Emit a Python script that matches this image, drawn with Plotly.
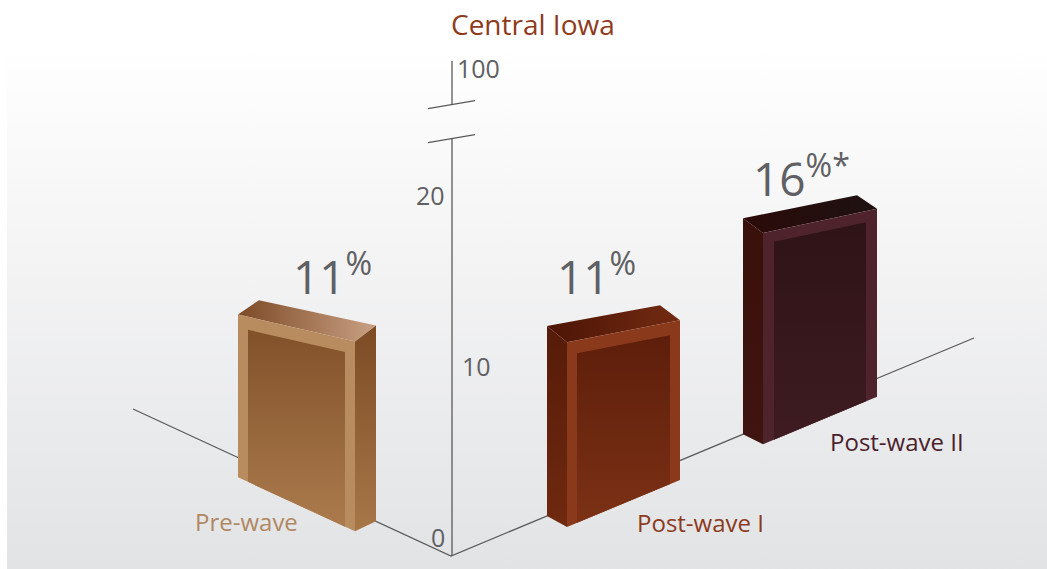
import plotly.graph_objects as go

# ---------------- data ----------------
categories = ["Pre-wave", "Post-wave I", "Post-wave II"]
values = [11, 11, 16]
value_suffix = ["%", "%", "%*"]
tick_values = [0, 10, 20]
tick_labels = ["0", "10", "20"]
top_tick_label = "100"
title_text = "Central Iowa"

# ---------------- styling / layout ----------------
W, H = 1047, 569
ORIGIN = (451.0, 556.0)           # floor corner (value 0)
LEFT_END_X, RIGHT_END_X = 133.0, 974.0
LEFT_SLOPE = 147.0 / 318.0        # floor line going left (rises toward left)
RIGHT_SLOPE = 218.0 / 523.0       # floor line going right
S0, K = 20.0, 0.00165             # pseudo-perspective vertical scale (px per unit)
AXIS_SCALE = 17.1                 # tick spacing on the drawn value axis
AXIS_LABEL_BASE = 537.0
AXIS_BREAK_AT = 23.3              # where the value axis is broken

# per bar: floor side, distance of near back corner from origin, face width, depth vector
bar_side = ["L", "R", "R"]
bar_offset = [75.0, 96.0, 292.0]
bar_width = [117.0, 113.0, 114.0]
bar_depth = [(-21.0, 10.0), (20.0, 11.0), (20.0, 10.0)]
frame_inset = [10.0, 10.0, 11.0]
frame_top = [13.0, 13.0, 11.0]
value_dx = [25.0, -17.0, -9.0]
value_dy = [9.0, 4.0, 16.0]
cat_dx = [-50.0, 77.0, 77.0]
cat_dy = [17.0, 19.0, 21.0]

col_frame = ["#b98c5f", "#8a391b", "#4f232c"]
col_inner = [("#82512a", "#ab7b4d"), ("#5d1e0b", "#7c3115"), ("#2e1317", "#3e1c21")]
col_side = [("#7c4b24", "#a87748"), ("#561b09", "#70290f"), ("#3a100b", "#401410")]
col_top = [("#7d4a26", "#c9a084"), ("#4c1405", "#732b12"), ("#2b0b09", "#1e1112")]
col_cat = ["#b08862", "#8b3a1c", "#4b1f2c"]
AXIS_COLOR = "#5a5a5a"
TEXT_GREY = "#5f6063"
FONT = "Open Sans"


def floor_point(side, dist):
    x0, y0 = ORIGIN
    if side == "L":
        return (x0 - dist, y0 - LEFT_SLOPE * dist)
    return (x0 + dist, y0 - RIGHT_SLOPE * dist)


def vscale(x):
    return S0 / (1.0 + K * abs(x - ORIGIN[0]))


def lift(p, v):
    return (p[0], p[1] - v * vscale(p[0]))


def add(p, d):
    return (p[0] + d[0], p[1] + d[1])


def lerp(a, b, t):
    return (a[0] + (b[0] - a[0]) * t, a[1] + (b[1] - a[1]) * t)


fig = go.Figure()


def poly(pts, colors, gtype="vertical"):
    xs = [p[0] for p in pts] + [pts[0][0]]
    ys = [p[1] for p in pts] + [pts[0][1]]
    if gtype == "vertical":
        start, stop = min(ys), max(ys)
    else:
        start, stop = min(xs), max(xs)
    fig.add_trace(go.Scatter(
        x=xs, y=ys, mode="lines", fill="toself", line=dict(width=0),
        fillgradient=dict(type=gtype, start=start, stop=stop,
                          colorscale=[[0, colors[0]], [1, colors[1]]]),
        hoverinfo="skip", showlegend=False))


def line(xs, ys, width=1.3):
    fig.add_trace(go.Scatter(x=xs, y=ys, mode="lines",
                             line=dict(color=AXIS_COLOR, width=width),
                             hoverinfo="skip", showlegend=False))


# background
poly([(7, 45), (W, 45), (W, H), (7, H)], ("#ffffff", "#e2e3e5"))

# floor lines
pl = floor_point("L", ORIGIN[0] - LEFT_END_X)
pr = floor_point("R", RIGHT_END_X - ORIGIN[0])
line([pl[0], ORIGIN[0], pr[0]], [pl[1], ORIGIN[1], pr[1]])

# value axis with break
ax_x = ORIGIN[0] + 1
break_lo = AXIS_LABEL_BASE - AXIS_BREAK_AT * AXIS_SCALE
break_hi = break_lo - 34.0
line([ax_x, ax_x], [ORIGIN[1], break_lo])
line([ax_x, ax_x], [break_hi, 61])
for yb in (break_lo, break_hi):
    line([ax_x - 24, ax_x + 23], [yb + 4, yb - 4])

annotations = []
for tv, tl in zip(tick_values, tick_labels):
    y = AXIS_LABEL_BASE - tv * AXIS_SCALE
    right = tv == 10
    annotations.append(dict(
        x=ax_x + (8 if right else -5), y=y, text=tl, showarrow=False,
        xanchor="left" if right else "right", yanchor="middle",
        font=dict(size=25, color=TEXT_GREY, family=FONT)))
annotations.append(dict(x=ax_x + 3, y=68, text=top_tick_label, showarrow=False,
                        xanchor="left", yanchor="middle",
                        font=dict(size=25, color=TEXT_GREY, family=FONT)))

# bars
for i, v in enumerate(values):
    side = bar_side[i]
    b_near = floor_point(side, bar_offset[i])
    b_far = floor_point(side, bar_offset[i] + bar_width[i])
    d = bar_depth[i]
    f_near, f_far = add(b_near, d), add(b_far, d)
    t_b_near, t_b_far = lift(b_near, v), lift(b_far, v)
    t_f_near, t_f_far = lift(f_near, v), lift(f_far, v)

    # top face
    tops = [t_f_near, t_f_far, t_b_far, t_b_near]
    poly(tops, col_top[i], "horizontal")
    # side face (visible on the near-origin end)
    poly([f_near, b_near, t_b_near, t_f_near], col_side[i])
    # front face (frame)
    poly([f_far, f_near, t_f_near, t_f_far], (col_frame[i], col_frame[i]))
    # inner panel
    t0 = frame_inset[i] / bar_width[i]
    t1 = 1 - t0
    ib0, ib1 = lerp(f_near, f_far, t0), lerp(f_near, f_far, t1)
    it0, it1 = lerp(t_f_near, t_f_far, t0), lerp(t_f_near, t_f_far, t1)
    it0 = (it0[0], it0[1] + frame_top[i])
    it1 = (it1[0], it1[1] + frame_top[i])
    poly([ib0, ib1, it1, it0], col_inner[i])

    # value label
    cx = sum(p[0] for p in tops) / 4 + value_dx[i]
    ty = min(p[1] for p in tops)
    annotations.append(dict(
        x=cx, y=ty + value_dy[i], text=f"{v}<sup>{value_suffix[i]}</sup>", showarrow=False,
        xanchor="center", yanchor="bottom",
        font=dict(size=46, color=TEXT_GREY, family=FONT)))
    # category label
    mx = (f_near[0] + f_far[0]) / 2 + cat_dx[i]
    my = (f_near[1] + f_far[1]) / 2 + cat_dy[i]
    annotations.append(dict(
        x=mx, y=my, text=categories[i], showarrow=False,
        xanchor="center", yanchor="middle",
        font=dict(size=24, color=col_cat[i], family=FONT)))

annotations.append(dict(x=533, y=24, text=title_text, showarrow=False,
                        xanchor="center", yanchor="middle",
                        font=dict(size=28, color="#8f3b1b", family=FONT)))

fig.update_layout(
    width=W, height=H, margin=dict(l=0, r=0, t=0, b=0),
    paper_bgcolor="#ffffff", plot_bgcolor="rgba(0,0,0,0)",
    xaxis=dict(range=[0, W], visible=False, fixedrange=True),
    yaxis=dict(range=[H, 0], visible=False, fixedrange=True),
    annotations=annotations, showlegend=False,
)

fig.write_html("out.html", config={"displayModeBar": False})
